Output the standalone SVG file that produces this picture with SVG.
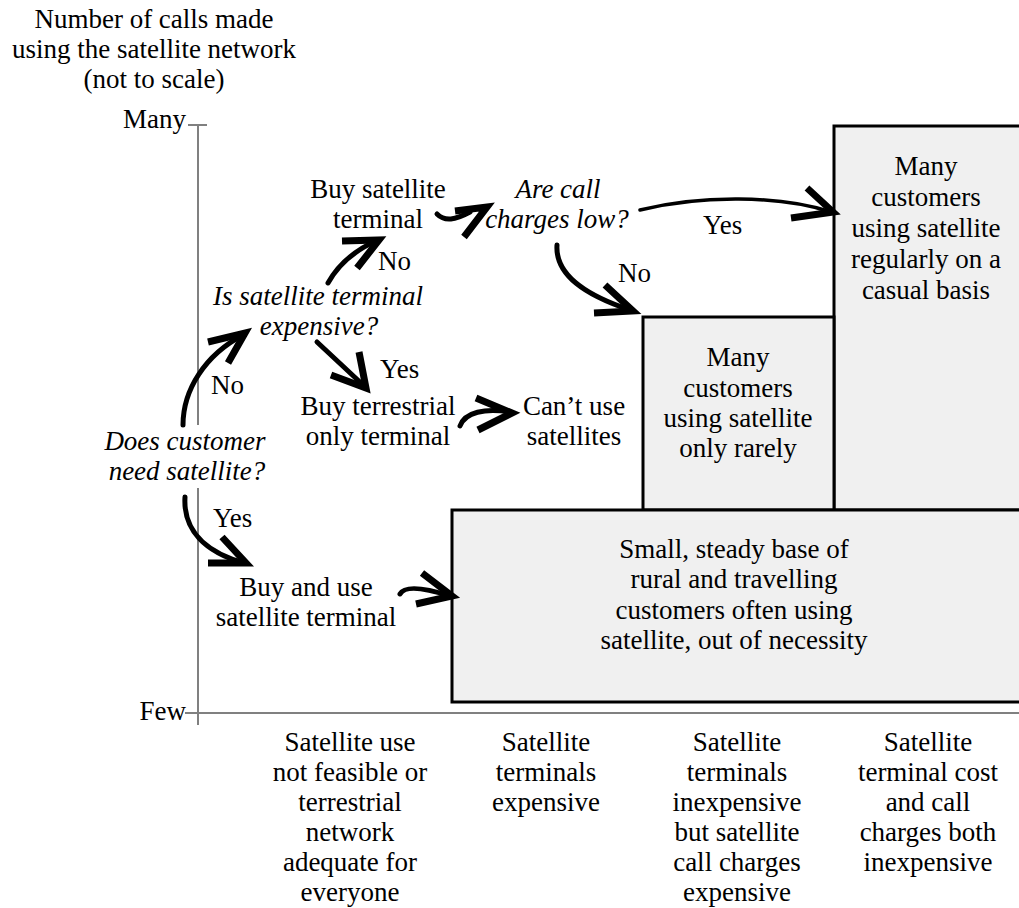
<svg xmlns="http://www.w3.org/2000/svg" width="1019" height="908" viewBox="0 0 1019 908">
<style>
text{font-family:"Liberation Serif","Times New Roman",serif;font-size:27px;fill:#000}
.c{text-anchor:middle}
.e{text-anchor:end}
.i{font-style:italic}
.box{fill:#f0f0f0;stroke:#000;stroke-width:3}
.axis{stroke:#808080;stroke-width:2;fill:none}
.shaft{fill:none;stroke:#000;stroke-width:5;stroke-linecap:round}
.head{fill:none;stroke:#000;stroke-width:7;stroke-linejoin:miter;stroke-miterlimit:10}
</style>
<rect width="1019" height="908" fill="#fff"/>
<g id="axes">
<line class="axis" x1="198" y1="125" x2="198" y2="425"/>
<line class="axis" x1="198" y1="488" x2="198" y2="725"/>
<line class="axis" x1="188" y1="125" x2="207" y2="125"/>
<line class="axis" x1="185" y1="713" x2="1019" y2="713"/>
<text class="c" x="154" y="28">Number of calls made</text>
<text class="c" x="154" y="58">using the satellite network</text>
<text class="c" x="154" y="88">(not to scale)</text>
<text class="e" x="186" y="128">Many</text>
<text class="e" x="186" y="720">Few</text>
</g>
<g id="col-1">
<text class="c" x="350" y="751">Satellite use</text>
<text class="c" x="350" y="781">not feasible or</text>
<text class="c" x="350" y="811">terrestrial</text>
<text class="c" x="350" y="841">network</text>
<text class="c" x="350" y="871">adequate for</text>
<text class="c" x="350" y="901">everyone</text>
</g>
<g id="col-2">
<text class="c" x="546" y="751">Satellite</text>
<text class="c" x="546" y="781">terminals</text>
<text class="c" x="546" y="811">expensive</text>
</g>
<g id="col-3">
<text class="c" x="737" y="751">Satellite</text>
<text class="c" x="737" y="781">terminals</text>
<text class="c" x="737" y="811">inexpensive</text>
<text class="c" x="737" y="841">but satellite</text>
<text class="c" x="737" y="871">call charges</text>
<text class="c" x="737" y="901">expensive</text>
</g>
<g id="col-4">
<text class="c" x="928" y="751">Satellite</text>
<text class="c" x="928" y="781">terminal cost</text>
<text class="c" x="928" y="811">and call</text>
<text class="c" x="928" y="841">charges both</text>
<text class="c" x="928" y="871">inexpensive</text>
</g>
<g id="box-casual">
<rect class="box" x="834" y="126" width="200" height="384"/>
<text class="c" x="926" y="175">Many</text>
<text class="c" x="926" y="206">customers</text>
<text class="c" x="926" y="237">using satellite</text>
<text class="c" x="926" y="268">regularly on a</text>
<text class="c" x="926" y="299">casual basis</text>
</g>
<g id="box-rarely">
<rect class="box" x="643" y="317" width="191" height="193"/>
<text class="c" x="738" y="366">Many</text>
<text class="c" x="738" y="397">customers</text>
<text class="c" x="738" y="427">using satellite</text>
<text class="c" x="738" y="457">only rarely</text>
</g>
<g id="box-base">
<rect class="box" x="452" y="510" width="600" height="192"/>
<text class="c" x="734" y="558">Small, steady base of</text>
<text class="c" x="734" y="588">rural and travelling</text>
<text class="c" x="734" y="619">customers often using</text>
<text class="c" x="734" y="649">satellite, out of necessity</text>
</g>
<g id="q-need">
<text class="c i" x="185" y="450">Does customer</text>
<text class="c i" x="187" y="480">need satellite?</text>
</g>
<g id="q-expensive">
<text class="c i" x="318" y="305">Is satellite terminal</text>
<text class="c i" x="319" y="335">expensive?</text>
</g>
<g id="q-charges">
<text class="c i" x="558" y="198">Are call</text>
<text class="c i" x="557" y="228">charges low?</text>
</g>
<g id="n-buysat">
<text class="c" x="378" y="198">Buy satellite</text>
<text class="c" x="378" y="228">terminal</text>
</g>
<g id="n-buyterr">
<text class="c" x="378" y="415">Buy terrestrial</text>
<text class="c" x="378" y="445">only terminal</text>
</g>
<g id="n-cantuse">
<text class="c" x="574" y="415">Can’t use</text>
<text class="c" x="574" y="445">satellites</text>
</g>
<g id="n-buyuse">
<text class="c" x="306" y="596">Buy and use</text>
<text class="c" x="306" y="626">satellite terminal</text>
</g>
<g id="labels">
<text x="378" y="270">No</text>
<text x="380" y="378">Yes</text>
<text x="211" y="394">No</text>
<text x="213" y="527">Yes</text>
<text x="703" y="234">Yes</text>
<text x="618" y="282">No</text>
</g>
<g id="connectors">
<path class="shaft" d="M183,425 C183,390 205,355 243,335"/>
<path class="head" d="M208,342 L245,333 L228,363"/>
<path class="shaft" d="M328,283 C338,265 355,250 378,240"/>
<path class="head" d="M342,241 L379,240 L357,268"/>
<path class="shaft" d="M317,342 L362,384"/>
<path class="head" d="M331,375 L366,388 L359,352"/>
<path class="shaft" d="M185,497 C183,530 205,552 244,563"/>
<path class="head" d="M208,563 L246,563 L222,537"/>
<path class="shaft" d="M460,426 C465,412 485,408 510,412"/>
<path class="head" d="M476,398 L512,413 L478,430"/>
<path class="shaft" d="M400,594 C405,585 425,588 450,596"/>
<path class="head" d="M422,573 L452,596 L416,604"/>
<path class="shaft" d="M437,214 C445,222 455,220 470,212"/>
<path class="head" d="M455,211 L487,207 L464,237"/>
<path class="shaft" style="stroke-width:3.5" d="M640,210 C700,195 780,195 831,212"/>
<path class="head" d="M807,188 L833,212 L791,218"/>
<path class="shaft" d="M557,245 C555,275 585,295 630,310"/>
<path class="head" d="M594,313 L633,311 L605,285"/>
</g>
</svg>
